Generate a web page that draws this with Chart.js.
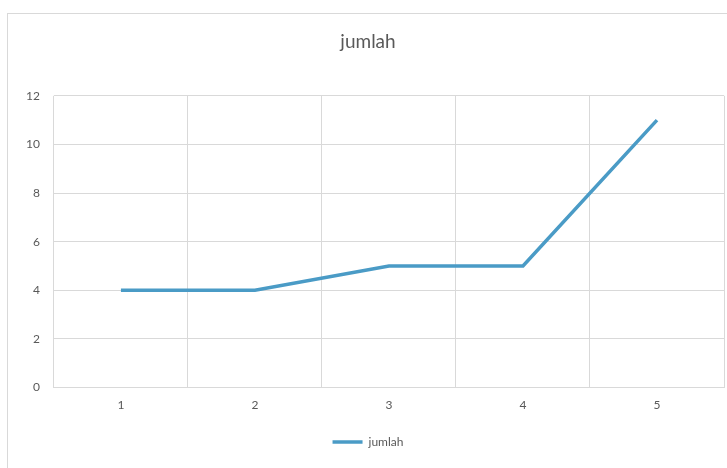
<!DOCTYPE html>
<html>
<head>
<meta charset="utf-8">
<script src="https://cdn.jsdelivr.net/npm/chart.js@4"></script>
<style>
  body { margin: 0; background: #fff; }
  #wrap { position: relative; width: 727px; height: 468px; }
  #frame { position: absolute; left: 7px; top: 13px; width: 730px; height: 460px; border: 1px solid #d9d9d9; box-sizing: border-box; }
  canvas { position: absolute; left: 0; top: 0; }
</style>
</head>
<body>
<div id="wrap">
  <div id="frame"></div>
  <canvas id="grafik" width="727" height="468"></canvas>
</div>
<script>
const kategori = ["1", "2", "3", "4", "5"];
const jumlah = [4, 4, 5, 5, 11];

const ctx = document.getElementById("grafik").getContext("2d");

const grafik = new Chart(ctx, {
  type: "line",
  data: {
    labels: kategori,
    datasets: [
      {
        label: "jumlah",
        data: jumlah,
        borderColor: "#4a9bc6",
        backgroundColor: "#4a9bc6",
        borderWidth: 3.5,
        pointRadius: 0,
        tension: 0,
      },
    ],
  },
  options: {
    responsive: false,
    animation: false,
    layout: { padding: { left: 12, right: 3, top: 8, bottom: 10 } },
    plugins: {
      title: {
        display: true,
        text: "jumlah",
        color: "#595959",
        font: { family: "Lato", size: 19, weight: "normal" },
        padding: { top: 22, bottom: 43 },
      },
      legend: {
        position: "bottom",
        labels: {
          usePointStyle: true,
          pointStyle: "line",
          pointStyleWidth: 30,
          boxHeight: 10,
          color: "#595959",
          font: { family: "Lato", size: 12 },
          padding: 14,
        },
      },
      tooltip: { enabled: false },
    },
    scales: {
      x: {
        offset: true,
        grid: { offset: true, color: "#d9d9d9", drawTicks: false },
        border: { color: "#d9d9d9" },
        ticks: { color: "#595959", font: { family: "Lato", size: 12 }, padding: 10 },
      },
      y: {
        min: 0,
        max: 12,
        ticks: { stepSize: 2, color: "#595959", font: { family: "Lato", size: 12 }, padding: 14 },
        grid: { color: "#d9d9d9", drawTicks: false },
        border: { display: false },
      },
    },
  },
});
</script>
</body>
</html>
